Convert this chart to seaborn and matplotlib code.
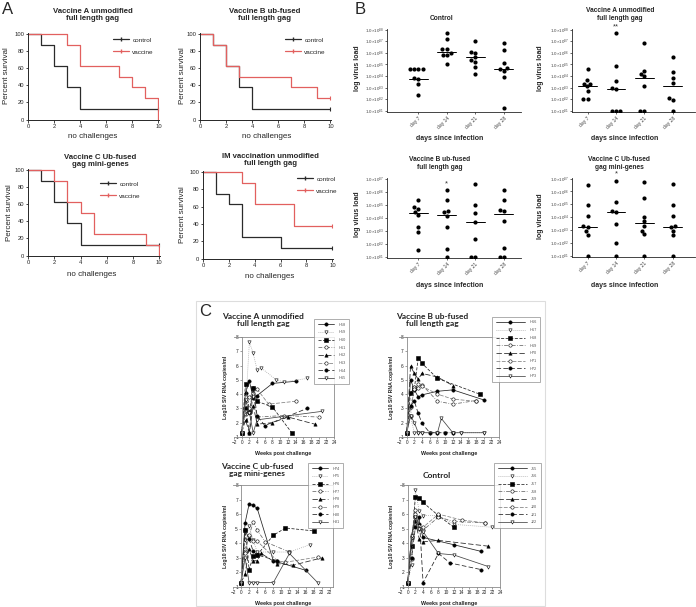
import numpy as np
import pandas as pd
import matplotlib
matplotlib.use("Agg")
import matplotlib.pyplot as plt
import seaborn as sns
from matplotlib.lines import Line2D
from matplotlib.patches import Rectangle

# ---------------- data ----------------
# A: Kaplan-Meier survival (percent) vs number of challenges
km_titles = ["Vaccine A unmodified\nfull length gag", "Vaccine B ub-fused\nfull length gag",
             "Vaccine C Ub-fused\ngag mini-genes", "IM vaccination unmodified\nfull length gag"]
km_control_t = [[0, 1, 2, 3, 4, 10], [0, 1, 2, 3, 4, 10], [0, 1, 2, 3, 4, 10], [0, 1, 2, 3, 6, 10]]
km_control_s = [[100, 87.5, 62.5, 37.5, 12.5, 12.5], [100, 87.5, 62.5, 37.5, 12.5, 12.5],
                [100, 87.5, 62.5, 37.5, 12.5, 12.5], [100, 75, 62.5, 25, 12.5, 12.5]]
km_vaccine_t = [[0, 3, 4, 7, 8, 9, 10], [0, 1, 2, 3, 7, 9, 10], [0, 2, 3, 4, 5, 9, 10], [0, 3, 4, 7, 10]]
km_vaccine_s = [[100, 87.5, 62.5, 50, 37.5, 25, 0], [100, 87.5, 62.5, 50, 37.5, 25, 25],
                [100, 87.5, 62.5, 50, 25, 12.5, 0], [100, 87.5, 62.5, 37.5, 37.5]]

# B: log10 virus load per day
days = ["day 7", "day 14", "day 21", "day 28"]
vl_titles = ["Control", "Vaccine A unmodified\nfull length gag",
             "Vaccine B ub-fused\nfull length gag", "Vaccine C Ub-fused\ngag mini-genes"]
vl_control = [[4.6, 4.6, 4.6, 4.6, 3.85, 3.75, 3.35, 2.4], [7.7, 7.2, 6.3, 6.3, 6.0, 5.85, 5.8, 5.0],
              [7.05, 6.05, 6.0, 5.6, 5.35, 5.2, 4.8, 4.2], [6.85, 6.2, 5.1, 4.65, 4.6, 4.4, 3.95, 1.25]]
vl_vac_a = [[4.6, 3.65, 3.35, 3.35, 3.1, 2.75, 2.05, 2.05], [7.7, 4.85, 3.6, 2.95, 2.9, 1.0, 1.0, 1.0],
            [6.85, 4.45, 4.2, 4.0, 3.1, 1.0, 1.0], [5.65, 4.35, 3.85, 3.4, 2.1, 1.95, 1.0]]
vl_vac_b = [[5.35, 4.8, 4.65, 4.4, 4.2, 3.25, 2.9, 1.55], [6.1, 5.35, 4.5, 4.4, 4.15, 3.25, 1.6, 1.0],
            [6.6, 5.0, 4.35, 3.65, 2.35, 1.0, 1.0], [6.15, 5.35, 4.6, 4.5, 3.75, 1.65, 1.0, 1.0]]
vl_vac_c = [[6.5, 4.95, 4.1, 3.35, 3.25, 2.9, 2.6, 1.0], [6.85, 5.2, 4.5, 4.4, 3.5, 2.0, 1.0],
            [6.7, 5.5, 4.05, 3.7, 3.35, 2.95, 2.7, 1.0], [6.55, 4.95, 4.1, 3.35, 3.25, 2.95, 2.6, 1.0]]
vl_medians = [[3.7, 6.05, 5.6, 4.6], [3.1, 2.85, 3.85, 3.1], [4.35, 4.2, 3.7, 4.25], [3.25, 4.4, 3.55, 3.25]]
vl_top = [8, 8, 7, 7]
vl_stars = [None, "**", "*", "*"]

# C: log10 SIV RNA copies/ml vs weeks post challenge, one line per animal
c_titles = ["Vaccine A unmodified\nfull length gag", "Vaccine B ub-fused\nfull length gag",
            "Vaccine C ub-fused\ngag mini-genes", "Control"]
c_ids = [["H58", "H59", "H60", "H61", "H62", "H63", "H64", "H65"],
         ["H66", "H67", "H68", "H69", "H70", "H71", "H72", "H73"],
         ["H74", "H75", "H76", "H77", "H78", "H79", "H80", "H81"],
         ["J15", "J16", "J17", "J18", "J19", "J20", "J21", "J22"]]
c_vac_a_weeks = [[0, 1, 2, 3, 4, 8, 14], [0, 1, 2, 3, 4, 5, 9, 11, 17], [0, 1, 2, 3, 4, 8, 13],
                 [0, 1, 2, 3, 4, 11, 20], [0, 1, 2, 3, 4, 8, 12, 19], [0, 1, 2, 3, 4, 7, 14],
                 [0, 1, 2, 3, 4, 6, 17], [0, 1, 2, 3, 4, 21]]
c_vac_a_load = [[1.3, 4.1, 4.9, 3.7, 3.9, 4.75, 4.9], [1.3, 3.0, 7.65, 6.85, 5.7, 5.85, 5.0, 4.85, 5.1],
                [1.3, 4.7, 2.75, 4.4, 3.5, 3.1, 1.3], [1.3, 2.6, 3.0, 3.9, 2.4, 2.5, 2.4],
                [1.3, 2.2, 1.3, 3.2, 1.9, 2.0, 2.4, 1.9], [1.3, 3.5, 3.8, 4.1, 4.35, 3.3, 3.5],
                [1.3, 3.0, 1.3, 4.45, 2.5, 1.8, 3.0], [1.3, 3.6, 2.7, 1.3, 2.2, 2.8]]
c_vac_b_weeks = [[0, 1, 2, 3, 4, 8, 12, 20], [0, 1, 2, 3, 4, 6, 8, 10, 12, 14, 20], [0, 1, 2, 3, 4, 8, 19],
                 [0, 1, 2, 3, 4, 8, 12, 18], [0, 1, 2, 3, 4, 8, 12], [0, 1, 2, 3, 4, 8, 12, 18],
                 [0, 1, 2, 3, 4, 6, 8, 10, 12], [0, 1, 2, 3, 4, 8, 9, 12, 14, 20]]
c_vac_b_load = [[1.3, 5.0, 4.3, 3.8, 3.95, 4.2, 4.3, 3.6], [1.3, 2.4, 1.3, 1.3, 1.3, 1.3, 1.3, 1.3, 1.3, 1.3, 1.3],
                [1.3, 4.1, 4.4, 6.55, 6.15, 5.1, 4.0], [1.3, 2.5, 4.5, 4.4, 4.65, 3.5, 3.3, 3.55],
                [1.3, 5.95, 5.45, 5.05, 5.45, 5.2, 4.6], [1.3, 3.1, 4.35, 4.7, 4.55, 4.0, 3.65, 3.5],
                [1.3, 3.2, 3.5, 2.65, 1.95, 1.3, 1.3, 1.3, 1.3], [1.3, 2.5, 2.0, 1.3, 1.3, 1.3, 2.3, 1.3, 1.3, 1.3]]
c_vac_c_weeks = [[0, 1, 2, 3, 4, 8, 16], [0, 1, 2, 3, 4, 8, 12, 17], [0, 1, 2, 3, 4, 8, 11, 18],
                 [0, 1, 2, 3, 4, 6, 12], [0, 1, 2, 3, 4, 5, 9, 13, 20], [0, 1, 2, 3, 4, 9, 11, 19],
                 [0, 1, 2, 3, 4, 9], [0, 1, 2, 3, 4, 8, 12, 19]]
c_vac_c_load = [[1.3, 5.4, 6.7, 6.6, 6.4, 2.8, 2.15], [1.3, 4.2, 5.2, 4.2, 3.4, 3.4, 3.4, 3.9],
                [1.3, 4.9, 2.2, 3.1, 3.2, 4.55, 5.05, 4.85], [1.3, 3.6, 4.5, 5.45, 4.9, 4.1, 3.4],
                [1.3, 1.9, 3.6, 2.8, 2.8, 3.3, 2.6, 2.5, 3.0], [1.3, 3.3, 4.6, 4.15, 4.15, 2.8, 2.7, 3.05],
                [1.3, 4.9, 4.3, 3.45, 3.2, 2.8], [1.3, 3.0, 1.3, 1.3, 1.3, 1.3, 3.3, 1.3]]
c_ctrl_weeks = [[0, 1, 2, 3, 4, 12, 19], [0, 1, 2, 3, 4, 8, 12, 22], [0, 1, 2, 3, 4, 8, 12],
                [0, 1, 2, 3, 4, 8, 12, 20], [0, 1, 2, 3, 4, 8, 21], [0, 1, 2, 3, 4, 8, 14, 20],
                [0, 1, 2, 3, 4, 8, 11, 19], [0, 1, 2, 3, 4, 8, 12, 21]]
c_ctrl_load = [[1.3, 4.5, 5.9, 5.3, 4.4, 3.9, 3.45], [1.3, 2.5, 7.65, 6.2, 5.9, 5.9, 5.3, 5.1],
               [1.3, 3.8, 7.2, 7.1, 6.8, 5.9, 5.1], [1.3, 2.9, 6.3, 5.2, 4.9, 5.8, 5.5, 5.4],
               [1.3, 4.4, 5.5, 4.3, 4.1, 4.2, 3.8], [1.3, 4.4, 6.0, 5.0, 5.1, 6.0, 5.6, 5.4],
               [1.3, 3.0, 5.1, 5.8, 1.3, 3.3, 2.65, 2.2], [1.3, 4.5, 5.8, 5.0, 4.8, 3.3, 3.2, 2.4]]

# ---------------- figure ----------------
W, H = 696, 607
sns.set_style("ticks")
plt.rcParams['font.family'] = ['Liberation Sans', 'DejaVu Sans']
plt.rcParams['mathtext.fontset'] = 'custom'
plt.rcParams['mathtext.rm'] = 'Liberation Sans'
fig = plt.figure(figsize=(W / 100, H / 100), dpi=100)


def px_axes(left, top, right, bottom):
    return fig.add_axes([left / W, 1 - bottom / H, (right - left) / W, (bottom - top) / H])


def ftext(x, y, s, **kw):
    kw.setdefault('ha', 'center')
    kw.setdefault('va', 'center')
    fig.text(x / W, 1 - y / H, s, **kw)


ctrl_col, vac_col = '#2b2b2b', '#e2605f'

# ----- panel A -----
a_layout = [  # axes box, title centre, xlabel centre, ylabel x, legend anchor
    dict(box=(28, 33, 159, 120), tx=93, ty=15, xl=(93, 137), yl=(7, 76), lg=(110, 34)),
    dict(box=(200, 33, 331, 120), tx=265, ty=15, xl=(267, 137), yl=(182, 76), lg=(282, 34)),
    dict(box=(28, 169, 160, 256), tx=100, ty=161, xl=(92, 275), yl=(10, 213), lg=(97, 178)),
    dict(box=(203, 171, 333, 259), tx=270, ty=160, xl=(270, 276), yl=(183, 215), lg=(294, 173)),
]
for i, lay in enumerate(a_layout):
    ax = px_axes(*lay['box'])
    for t, s, c in [(km_control_t[i], km_control_s[i], ctrl_col), (km_vaccine_t[i], km_vaccine_s[i], vac_col)]:
        sns.lineplot(x=t, y=s, ax=ax, color=c, lw=0.9, drawstyle='steps-post', estimator=None)
        if s[-1] > 0:
            ax.plot(t[-1:], s[-1:], marker='|', ms=3, color=c, mew=0.8)
    ax.set_xlim(0, 10.05)
    ax.set_ylim(-0.5, 101)
    ax.set_xticks(range(0, 11, 2))
    ax.set_yticks(range(0, 101, 20))
    ax.tick_params(labelsize=4.2, length=1.8, width=0.6, pad=1)
    for sp in ['left', 'bottom']:
        ax.spines[sp].set_linewidth(0.7)
    sns.despine(ax=ax)
    ftext(lay['tx'], lay['ty'], km_titles[i], fontsize=5.6, fontweight='bold', linespacing=1.15)
    ftext(*lay['xl'], "no challenges", fontsize=5.8)
    ftext(*lay['yl'], "Percent survival", fontsize=5.8, rotation=90)
    handles = [Line2D([], [], color=ctrl_col, lw=0.9, marker='|', ms=3),
               Line2D([], [], color=vac_col, lw=0.9, marker='|', ms=3)]
    ax.legend(handles, ["control", "vaccine"], loc='upper left', frameon=False, fontsize=4.6,
              bbox_to_anchor=(lay['lg'][0] / W, 1 - lay['lg'][1] / H), bbox_transform=fig.transFigure,
              handlelength=2.4, handletextpad=0.6, labelspacing=1.0, borderpad=0)

ftext(2, 10, "A", fontsize=12, ha='left')

# ----- panel B -----
b_data = [vl_control, vl_vac_a, vl_vac_b, vl_vac_c]
b_layout = [
    dict(box=(387, 29, 521, 112), xlim=(-1.1, 3.6), tx=442, ty=19, xl=(450, 138), yl=(357, 68)),
    dict(box=(572, 29, 695, 112), xlim=(-0.55, 3.78), tx=620, ty=15, xl=(625, 138), yl=(540, 68)),
    dict(box=(387, 178, 521, 258), xlim=(-1.1, 3.6), tx=440, ty=163, xl=(450, 286), yl=(357, 214)),
    dict(box=(572, 178, 695, 257), xlim=(-0.55, 3.78), tx=619, ty=163, xl=(625, 286), yl=(540, 216)),
]
for i, lay in enumerate(b_layout):
    ax = px_axes(*lay['box'])
    vals = b_data[i]
    df = pd.DataFrame({'day': np.repeat(days, [len(v) for v in vals]),
                       'load': np.concatenate(vals)})
    sns.swarmplot(data=df, x='day', y='load', order=days, color='black', size=3.0, ax=ax)
    for k, m in enumerate(vl_medians[i]):
        ax.plot([k - 0.33, k + 0.33], [m, m], color='black', lw=0.7)
    if vl_stars[i]:
        ax.text(1, max(vals[1]) + 0.22, vl_stars[i], ha='center', va='bottom', fontsize=5.5, color='#333333')
    top = vl_top[i]
    ax.set_ylim(0.9, top + 0.05)
    ax.set_xlim(*lay['xlim'])
    ax.set_yticks(range(1, top + 1))
    ax.set_yticklabels([r'$1.0{\times}10^{%02d}$' % k for k in range(1, top + 1)])
    ax.tick_params(axis='y', labelsize=3.2, length=1.5, width=0.5, pad=1, labelcolor='#444444')
    ax.tick_params(axis='x', labelsize=3.6, length=1.5, width=0.5, pad=1, labelcolor='#444444')
    for lbl in ax.get_xticklabels():
        lbl.set_rotation(45)
        lbl.set_ha('right')
        lbl.set_rotation_mode('anchor')
    ax.set_xlabel("")
    ax.set_ylabel("")
    for sp in ['left', 'bottom']:
        ax.spines[sp].set_linewidth(0.6)
    sns.despine(ax=ax)
    ftext(lay['tx'], lay['ty'], vl_titles[i], fontsize=4.8, fontweight='bold', linespacing=1.2)
    ftext(*lay['xl'], "days since infection", fontsize=5.0, fontweight='bold')
    ftext(*lay['yl'], "log virus load", fontsize=5.0, fontweight='bold', rotation=90)

ftext(355, 10, "B", fontsize=12, ha='left')

# ----- panel C -----
c_weeks = [c_vac_a_weeks, c_vac_b_weeks, c_vac_c_weeks, c_ctrl_weeks]
c_load = [c_vac_a_load, c_vac_b_load, c_vac_c_load, c_ctrl_load]
c_styles = [
    dict(ls='-', marker='o', mfc='black', color='#222222'),
    dict(ls=':', marker='v', mfc='white', color='#9a9a9a'),
    dict(ls=(0, (4, 2)), marker='s', mfc='black', color='#222222'),
    dict(ls=(0, (5, 2, 1, 2)), marker='o', mfc='white', color='#666666'),
    dict(ls=(0, (7, 3)), marker='^', mfc='black', color='#222222'),
    dict(ls=(0, (5, 2)), marker='o', mfc='white', color='#808080'),
    dict(ls=(0, (6, 3)), marker='o', mfc='black', color='#222222'),
    dict(ls='-', marker='v', mfc='white', color='#444444'),
]
c_layout = [
    dict(box=(234, 337, 334, 437), xmax=24, tx=263, ty=320, xl=(283, 454), yl=(225, 387), lg=(314, 319), hl=4.2),
    dict(box=(399, 337, 499, 437), xmax=24, tx=432, ty=320, xl=(449, 454), yl=(392, 387), lg=(492, 317), hl=7.5),
    dict(box=(233, 485, 333, 587), xmax=22.8, tx=257, ty=470, xl=(283, 604), yl=(225, 536), lg=(308, 463), hl=4.2),
    dict(box=(400, 485, 500, 587), xmax=24, tx=437, ty=475, xl=(449, 604), yl=(392, 536), lg=(494, 463), hl=7.5),
]
for i, lay in enumerate(c_layout):
    ax = px_axes(*lay['box'])
    for k in range(8):
        st = c_styles[k]
        sns.lineplot(x=c_weeks[i][k], y=c_load[i][k], ax=ax, estimator=None, sort=False,
                     color=st['color'], linestyle=st['ls'], lw=0.55, marker=st['marker'],
                     markersize=2.4, markerfacecolor=st['mfc'], markeredgecolor='black',
                     markeredgewidth=0.4)
    ax.set_xlim(-2, lay['xmax'])
    ax.set_ylim(1, 8)
    ax.set_xticks(range(-2, int(lay['xmax']) + 1, 2))
    ax.set_yticks(range(1, 9))
    ax.spines['left'].set_position(('data', 0))
    for sp in ax.spines.values():
        sp.set_linewidth(0.6)
        sp.set_color('#8a8a8a')
    ax.tick_params(labelsize=3.4, length=1.2, width=0.4, pad=1, colors='#555555', labelcolor='#222222')
    ax.set_xlabel("")
    ax.set_ylabel("")
    ftext(lay['tx'], lay['ty'], c_titles[i], fontsize=6.0, fontweight='bold', family='Lato',
          linespacing=1.1, color='#222222')
    ftext(*lay['xl'], "Weeks post challenge", fontsize=3.9, fontweight='bold', color='#222222')
    ftext(*lay['yl'], "Log10 SIV RNA copies/ml", fontsize=3.7, fontweight='bold', rotation=90, color='#222222')
    handles = [Line2D([], [], color=st['color'], ls=st['ls'], lw=0.55, marker=st['marker'], ms=2.4,
                      mfc=st['mfc'], mec='black', mew=0.4) for st in c_styles]
    leg = ax.legend(handles, c_ids[i], loc='upper left', fontsize=2.8, frameon=True, fancybox=False,
                    bbox_to_anchor=(lay['lg'][0] / W, 1 - lay['lg'][1] / H), bbox_transform=fig.transFigure,
                    handlelength=lay['hl'], handletextpad=1.2, labelspacing=0.95, borderpad=0.9,
                    numpoints=1, borderaxespad=0)
    leg.get_frame().set_edgecolor('#8a8a8a')
    leg.get_frame().set_linewidth(0.6)
    for txt in leg.get_texts():
        txt.set_color('#555555')

fig.add_artist(Rectangle((196 / W, 1 - 606 / H), (545 - 196) / W, (606 - 301) / H,
                         transform=fig.transFigure, fill=False, edgecolor='#dddddd', lw=0.8))
ftext(199, 312, "C", fontsize=12, ha='left')

fig.savefig("out.png", dpi=100, facecolor='white')
